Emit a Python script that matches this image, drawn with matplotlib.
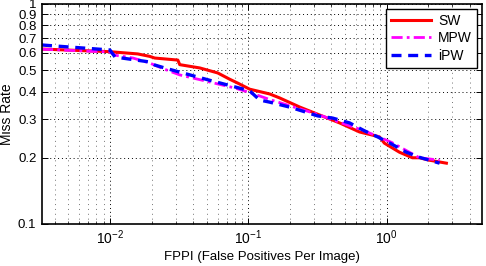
import numpy as np
import matplotlib
matplotlib.use('Agg')
import matplotlib.pyplot as plt
from matplotlib.ticker import LogLocator, NullLocator, FixedLocator

plt.rcParams['font.family'] = 'Liberation Sans'
plt.rcParams['mathtext.fontset'] = 'custom'
plt.rcParams['mathtext.rm'] = 'Liberation Sans'
plt.rcParams['mathtext.it'] = 'Liberation Sans:italic'

# miss rate vs FPPI
sw_fppi = [0.00323, 0.01, 0.0159, 0.0194, 0.0211, 0.031, 0.032, 0.0447, 0.0602,
           0.0735, 0.084, 0.1025, 0.143, 0.169, 0.236, 0.328, 0.458, 0.638,
           0.889, 0.966, 1.24, 1.54, 1.73, 2.04, 2.71]
sw_mr = [0.624, 0.607, 0.593, 0.578, 0.568, 0.556, 0.530, 0.512, 0.486,
         0.455, 0.437, 0.410, 0.390, 0.374, 0.340, 0.313, 0.288, 0.262,
         0.249, 0.233, 0.212, 0.200, 0.200, 0.195, 0.189]

mpw_fppi = [0.00323, 0.01, 0.0109, 0.0147, 0.0194, 0.0249, 0.032, 0.0527,
            0.08, 0.1025, 0.143, 0.199, 0.318, 0.458, 0.694, 1.087, 1.73, 2.42]
mpw_mr = [0.623, 0.605, 0.585, 0.568, 0.539, 0.505, 0.476, 0.442,
          0.415, 0.396, 0.368, 0.345, 0.315, 0.290, 0.265, 0.235, 0.200, 0.195]

ipw_fppi = [0.00323, 0.01, 0.0109, 0.0194, 0.0211, 0.0249, 0.032, 0.0527,
            0.08, 0.1025, 0.121, 0.143, 0.199, 0.247, 0.318, 0.408, 0.541,
            0.694, 0.861, 1.087, 1.39, 1.73, 2.42]
ipw_mr = [0.651, 0.618, 0.574, 0.545, 0.528, 0.512, 0.490, 0.450,
          0.420, 0.403, 0.366, 0.358, 0.340, 0.326, 0.310, 0.303, 0.288,
          0.265, 0.249, 0.231, 0.212, 0.201, 0.189]

yticks = [0.1, 0.2, 0.3, 0.4, 0.5, 0.6, 0.7, 0.8, 0.9, 1]
ytick_labels = ['0.1', '0.2', '0.3', '0.4', '0.5', '0.6', '0.7', '0.8', '0.9', '1']

fig = plt.figure(figsize=(4.86, 2.66), dpi=100)
ax = fig.add_axes([0.0864, 0.1579, 0.9053, 0.8271])

fontsize = 10

ax.plot(sw_fppi, sw_mr, color='red', lw=2.2, ls='-', label='SW')
ax.plot(mpw_fppi, mpw_mr, color='magenta', lw=2, ls=(0, (4, 1.5, 1, 1.5)), label='MPW')
ax.plot(ipw_fppi, ipw_mr, color='blue', lw=2.4, ls=(0, (3, 2)), label='iPW')

ax.set_xscale('log')
ax.set_yscale('log')
ax.set_xlim(0.00323, 4.9)
ax.set_ylim(0.1, 1)

ax.yaxis.set_major_locator(FixedLocator(yticks))
ax.set_yticklabels(ytick_labels)
ax.yaxis.set_minor_locator(NullLocator())
ax.xaxis.set_major_locator(LogLocator(base=10, numticks=10))
ax.xaxis.set_minor_locator(LogLocator(base=10, subs=np.arange(2, 10), numticks=10))

ax.grid(True, which='major', axis='both', color='black', ls=(0, (1, 3)), lw=0.7)
ax.grid(True, which='minor', axis='x', color='0.45', ls=(0, (1, 4)), lw=0.7)

ax.tick_params(axis='both', which='both', direction='in', top=True, right=True,
               labelsize=fontsize)
ax.tick_params(axis='y', labelsize=9.5)
ax.tick_params(axis='both', which='major', length=4, width=0.7)
ax.tick_params(axis='y', which='major', pad=4)
ax.tick_params(axis='x', which='minor', length=2, width=0.5)
ax.tick_params(axis='x', which='major', pad=3)
for axis in ['top', 'bottom', 'left', 'right']:
    ax.spines[axis].set_linewidth(1.2)

ax.set_xlabel('FPPI (False Positives Per Image)', fontsize=9.5)
ax.xaxis.set_label_coords(0.5, -0.122)
ax.set_ylabel('Miss Rate', fontsize=fontsize, labelpad=3)

leg = ax.legend(loc='upper right', fontsize=fontsize, fancybox=False, framealpha=1,
                edgecolor='black', handlelength=2.9, borderaxespad=0.35,
                labelspacing=0.25, handletextpad=0.5, borderpad=0.35)
leg.get_frame().set_linewidth(1.0)

fig.savefig('out.png', dpi=100)
